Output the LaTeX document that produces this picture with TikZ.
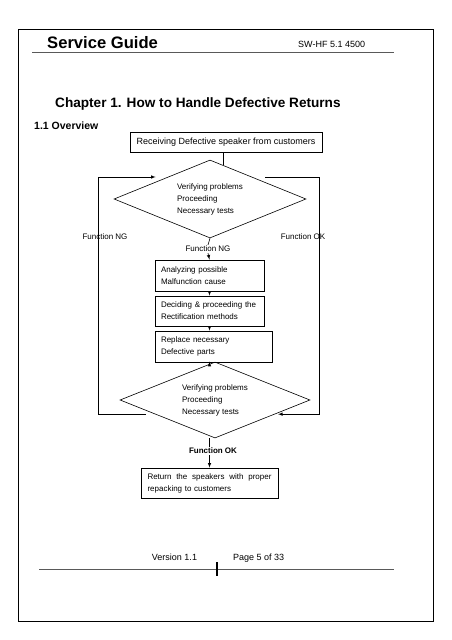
\documentclass[tikz,border=0pt]{standalone}
\usepackage{fontspec}
\setmainfont{Liberation Sans}
\usetikzlibrary{shapes.geometric, arrows, calc, positioning}

\begin{document}
\begin{tikzpicture}[x=1pt, y=-1pt,
	flow/.style={draw, line width=0.8pt, minimum height=31pt, inner xsep=6pt, align=left, font=\fontsize{8}{12}\selectfont},
	decide/.style={draw, diamond, aspect=2.5, line width=0.6pt, minimum width=192pt, minimum height=78pt, inner sep=0pt, align=left, font=\fontsize{8}{12}\selectfont},
	lbl/.style={inner sep=1pt, font=\fontsize{8}{10}\selectfont},
	conn/.style={line width=0.6pt},
	arr/.style={line width=0.6pt, -latex}]
	\useasboundingbox (0,0) rectangle (452,640);
	\draw[line width=0.8pt] (18,29) rectangle (433,621);

	\node[anchor=base west, inner sep=0pt, font=\fontsize{16.6}{18}\selectfont\bfseries] (title) at (47,48) {Service Guide};
	\node[anchor=base west, inner sep=0pt, font=\fontsize{9}{11}\selectfont] (model) at (298,47) {SW-HF 5.1 4500};
	\draw[gray!70!black, line width=1.2pt] (32,52.5) -- (394,52.5);
	\node[anchor=base west, inner sep=0pt, font=\fontsize{13.6}{16}\selectfont\bfseries] (chap) at (55,107) {Chapter 1. How to Handle Defective Returns};
	\node[anchor=base west, inner sep=0pt, font=\fontsize{10.5}{12}\selectfont\bfseries] (sec) at (34,129) {1.1 Overview};

	\node[draw, line width=0.8pt, minimum width=192pt, minimum height=20pt, inner sep=2pt, font=\fontsize{9}{11}\selectfont] (recv) at (226,142.5) {Receiving Defective speaker from customers};
	\node[decide] (check) at (210,199) {Verifying problems\\Proceeding\\Necessary tests};
	\node[lbl] (ngmid) at (208,249) {Function NG};
	\node[flow, text width=97pt] (anal) at (209.5,275.5) {Analyzing possible\\Malfunction cause};
	\node[flow, text width=97pt, minimum height=30pt] (decd) at (209.5,311) {Deciding \& proceeding the\\Rectification methods};
	\node[flow, text width=105pt] (repl) at (213.5,346.5) {Replace necessary\\Defective parts};
	\node[decide, minimum width=190pt, minimum height=76pt] (recheck) at (215,400) {Verifying problems\\Proceeding\\Necessary tests};
	\node[lbl, font=\fontsize{8}{10}\selectfont\bfseries] (okmid) at (213,451) {Function OK};
	\node[flow, text width=124pt, minimum height=30pt, inner xsep=6.5pt] (ret) at (209.5,483) {Return\hfill the\hfill speakers\hfill with\hfill proper\\repacking to customers};
	\node[lbl] (ngside) at (105,237) {Function NG};
	\node[lbl] (okside) at (303,237) {Function OK};

	\coordinate (in1) at ($(check.north)!0.135!(check.east)$);
	\coordinate (ngout) at ($(recheck.west)!0.37!(recheck.south)$);
	\coordinate (ngin) at ($(check.west)!0.56!(check.north)$);
	\coordinate (okout) at ($(check.east)!0.56!(check.north)$);
	\coordinate (okin) at ($(recheck.east)!0.37!(recheck.south)$);

	\draw[conn] (recv.south -| in1) -- (in1);
	\draw[conn] (check.south) -- (ngmid.north);
	\draw[arr] (ngmid.south) -- (anal.north);
	\draw[arr] (anal.south) -- (decd.north);
	\draw[arr] (decd.south) -- (repl.north -| decd.south);
	\draw[arr] (repl.south -| decd.south) -- (recheck.north -| decd.south);
	\draw[arr, shorten <=9pt, shorten >=12pt] (ngout) -- ++(-56.5,0) |- (ngin);
	\draw[arr, shorten <=13pt, shorten >=3pt] (okout) -- ++(67,0) |- (okin);
	\draw[conn] (recheck.south -| ret.north) -- (okmid.north -| ret.north);
	\draw[arr] (okmid.south -| ret.north) -- (ret.north);

	\node[anchor=base, inner sep=0pt, font=\fontsize{9}{11}\selectfont] (ver) at (174.5,560.5) {Version 1.1};
	\node[anchor=base west, inner sep=0pt, font=\fontsize{9}{11}\selectfont] (page) at (233,560.5) {Page 5 of 33};
	\draw[gray!70!black, line width=1pt] (39,569) -- (394,569);
	\draw[line width=1.6pt] (217,562) -- (217,576);
\end{tikzpicture}
\end{document}
